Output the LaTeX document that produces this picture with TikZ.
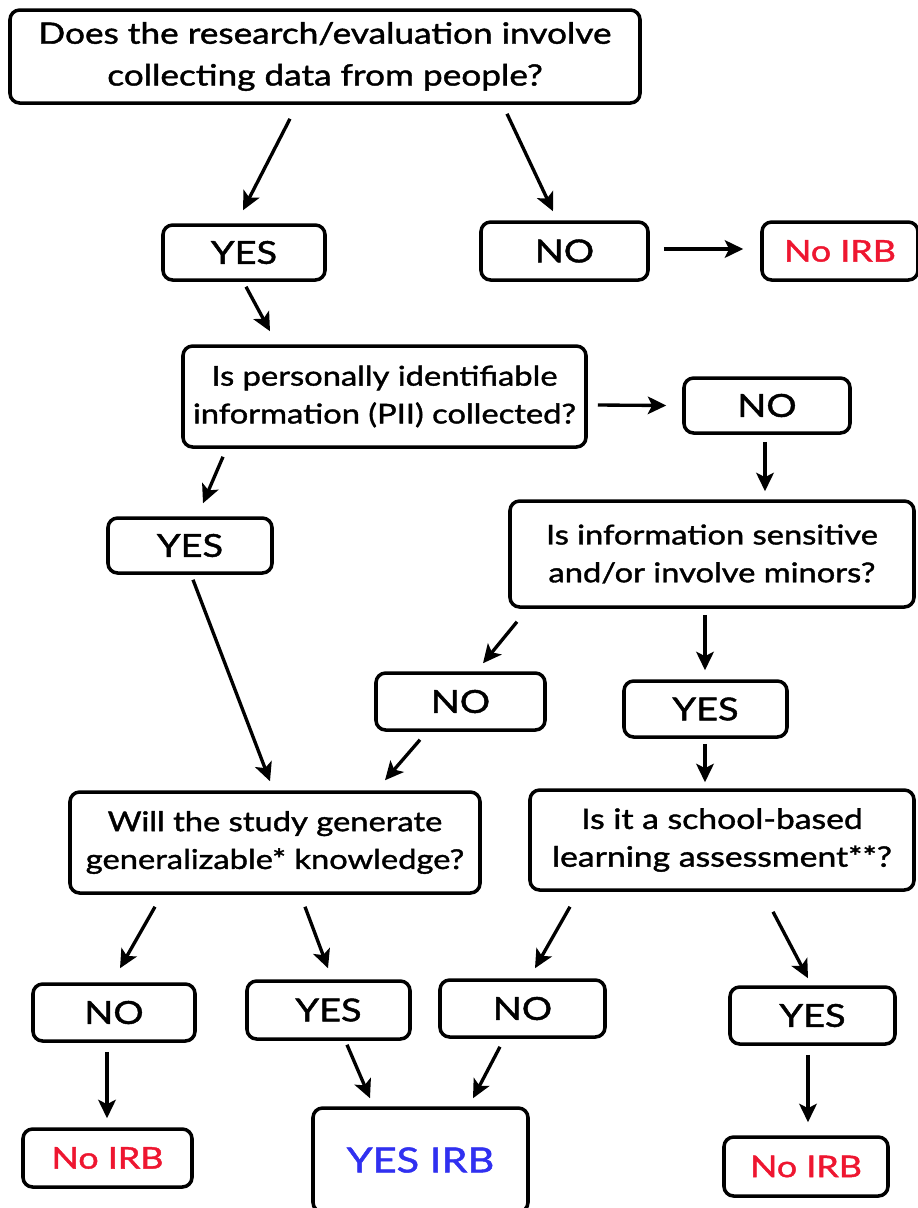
\documentclass[tikz,border=0pt]{standalone}
\usepackage{fontspec}
\setmainfont{Lato}[FakeStretch=1.2, FakeBold=1.4]
\usetikzlibrary{arrows.meta,calc}
\definecolor{noirb}{RGB}{238,22,48}
\definecolor{yesirb}{RGB}{48,48,240}
\begin{document}
\begin{tikzpicture}[x=0.02cm,y=-0.02cm,
  box/.style={draw, line width=2pt, rounded corners=5.5pt, inner sep=0pt, align=center},
  ans/.style={box, font=\fontsize{18}{22}\selectfont},
  ques/.style={box, font=\fontsize{15.5}{21.5}\selectfont},
  sz/.style 2 args={minimum width=#1*0.02cm, minimum height=#2*0.02cm},
  arr/.style={-{Stealth[length=10.5pt,width=10pt,inset=2.5pt]}, line width=1.9pt}]
\clip (0,0) rectangle (918,1208);

% question boxes
\node[ques, sz={630}{93}, font=\fontsize{16.7}{23.8}\selectfont] (top) at (325,56.5)
  {Does the research/evaluation involve\\collecting data from people?};
\node[ques, sz={403}{101}] (pii) at (384.5,396.5)
  {Is personally identifiable\\information (PII) collected?};
\node[ques, sz={404}{106}] (sens) at (712,554)
  {Is information sensitive\\and/or involve minors?};
\node[ques, sz={410}{101}] (gen) at (275,842.5)
  {Will the study generate\\generalizable* knowledge?};
\node[ques, sz={384}{100}, font=\fontsize{16}{21.5}\selectfont] (school) at (722,840)
  {Is it a school-based\\learning assessment**?};

% answer boxes
\node[ans, sz={162}{55}] (yes1) at (244,252.5) {YES};
\node[ans, sz={167}{58}] (no1) at (564.5,251) {NO};
\node[ans, sz={156}{58}, text=noirb, font=\fontsize{17}{22}\selectfont] (noirb1) at (840,251) {No IRB};
\node[ans, sz={166}{55}] (no2) at (767,405.5) {NO};
\node[ans, sz={164}{55}] (yes2) at (190,545.5) {YES};
\node[ans, sz={169}{57}] (no3) at (460.5,701.5) {NO};
\node[ans, sz={163}{56}] (yes3) at (705.5,709) {YES};
\node[ans, sz={162}{57}] (no4) at (114,1012.5) {NO};
\node[ans, sz={163}{58}] (yes4) at (328.5,1010) {YES};
\node[ans, sz={165}{57}] (no5) at (522.5,1008.5) {NO};
\node[ans, sz={165}{57}] (yes5) at (812.5,1015.5) {YES};
\node[ans, sz={169}{58}, text=noirb, font=\fontsize{17}{22}\selectfont] (noirb2) at (107.5,1158) {No IRB};
\node[ans, sz={215}{104}, text=yesirb, font=\fontsize{19.7}{24}\selectfont] (yesirb) at (420.5,1160) {YES IRB};
\node[ans, sz={164}{59}, text=noirb, font=\fontsize{17}{22}\selectfont] (noirb3) at (806,1166.5) {No IRB};

% connectors
\draw[arr] ($(top.south)+(-35,14)$) -- ($(yes1.north)+(-1,-13)$);
\draw[arr] ($(top.south)+(182,9)$) -- ($(no1.north)+(-11.5,-9)$);
\draw[arr] ($(no1.east)+(14,-2)$) -- ($(noirb1.west)+(-17,-2)$);
\draw[arr] ($(yes1.south)+(2,5)$) -- ($(pii.north)+(-114.5,-13)$);
\draw[arr] ($(pii.east)+(10,8.5)$) -- ($(no2.west)+(-16,0)$);
\draw[arr] ($(no2.south)+(-2,7)$) -- ($(sens.north)+(53,-8)$);
\draw[arr] ($(pii.south)+(-161.5,8)$) -- ($(yes2.north)+(13,-13)$);
\draw[arr] ($(yes2.south)+(3,5)$) -- ($(gen.north)+(-5,-9)$);
\draw[arr] ($(sens.south)+(-195,13)$) -- ($(no3.north)+(22.5,-8)$);
\draw[arr] ($(sens.south)+(-7,6)$) -- ($(yes3.north)+(-0.5,-9)$);
\draw[arr] ($(no3.south)+(-40.5,8)$) -- ($(gen.north)+(110,-10)$);
\draw[arr] ($(yes3.south)+(-0.5,5)$) -- ($(school.north)+(-17,-6)$);
\draw[arr] ($(gen.south)+(-120,12)$) -- ($(no4.north)+(6,-14)$);
\draw[arr] ($(gen.south)+(30,12)$) -- ($(yes4.north)+(-0.5,-11)$);
\draw[arr] ($(school.south)+(-152,15)$) -- ($(no5.north)+(12.5,-10)$);
\draw[arr] ($(school.south)+(51,20)$) -- ($(yes5.north)+(-4.5,-7)$);
\draw[arr] ($(no4.south)+(-7,9)$) -- ($(noirb2.north)+(-0.5,-9)$);
\draw[arr] ($(yes4.south)+(18.5,4)$) -- ($(yesirb.north)+(-50.5,-8)$);
\draw[arr] ($(no5.south)+(-22.5,8)$) -- ($(yesirb.north)+(52.5,-8)$);
\draw[arr] ($(yes5.south)+(-4.5,9)$) -- ($(noirb3.north)+(2,-13)$);
\end{tikzpicture}
\end{document}
